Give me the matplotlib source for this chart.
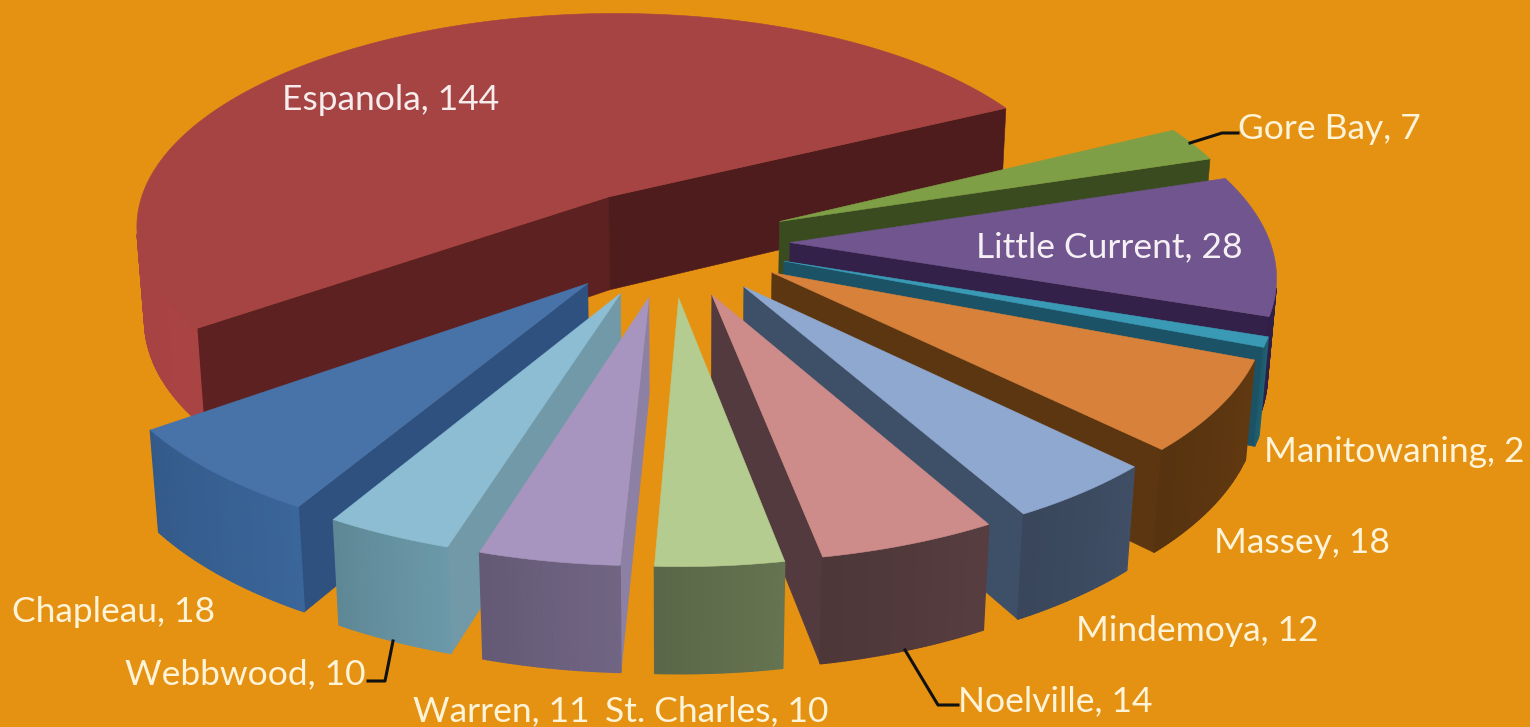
import numpy as np
from matplotlib import pyplot as plt
from matplotlib.colors import to_rgb
from matplotlib.patches import Polygon

towns = ["Gore Bay", "Little Current", "Manitowaning", "Massey", "Mindemoya", "Noelville",
         "St. Charles", "Warren", "Webbwood", "Chapleau", "Espanola"]
values = [7, 28, 2, 18, 12, 14, 10, 11, 10, 18, 144]

top_colors = ["#7f9f46", "#70558f", "#3a9ab5", "#d8813a", "#8fa8d0", "#cd8c8a",
              "#b5cc90", "#a795bf", "#8cbdd3", "#4873a9", "#a64343"]
rim_colors = ["#5f7a34", "#33214a", "#1f5d6e", "#5c3610", "#3c4a60", "#523a3c",
              "#5f6d4c", "#6a5f7c", "#65909f", "#376092", "#a04040"]
face_colors = ["#3a4c1f", "#33214a", "#1b5266", "#5c3610", "#3e5068", "#523a3e",
               "#5f6d4c", "#8c80a5", "#7199a8", "#2f5180", "#551e1e"]

# label position in pixels, left edge and middle of the text
label_x = [1238, 976, 1264, 1214, 1076, 958, 605, 413, 125, 12, 282]
label_y = [129, 247, 452, 543, 631, 701, 711, 711, 674, 612, 100]
label_colors = ["#fff3d8", "#f6f0f4", "#fff3d8", "#fff3d8", "#fff3d8", "#fff3d8",
                "#fff3d8", "#fff3d8", "#fff3d8", "#fff3d8", "#f6ecec"]

# leader lines, pixels
leaders = [([1238, 1222, 1190], [133, 133, 143]),
           ([368, 385, 393], [681, 681, 641]),
           ([958, 938, 905], [705, 705, 650])]

# view of the pie
start_angle = 63.0
explode = 0.25
height = 0.225
elev = np.radians(27.0)
persp = 6.9
focal = 480
center_x = 670
center_y = 242
cam_y = -persp * np.cos(elev)


def project(x, y, z):
    w = 1 + (y * np.cos(elev) - z * np.sin(elev)) / persp
    return center_x + focal * x / w, center_y - focal * (y * np.sin(elev) + z * np.cos(elev)) / w


def shade(color, amount):
    r, g, b = to_rgb(color)
    return (min(r * amount, 1), min(g * amount, 1), min(b * amount, 1))


def fill(ax, xs, ys, color, lw=0.4):
    ax.add_patch(Polygon(np.column_stack([xs, ys]), closed=True, facecolor=color, edgecolor=color, linewidth=lw))


def faces_camera(px, py, angle):
    # angle is the outward normal, clockwise from the back of the pie
    return np.sin(angle) * (0 - px) + np.cos(angle) * (cam_y - py) > 0


def draw_slice(ax, a0, a1, i):
    mid = np.radians((a0 + a1) / 2)
    ox = explode * np.sin(mid)
    oy = explode * np.cos(mid)
    t = np.radians(np.linspace(a0, a1, max(int(a1 - a0) * 2, 4)))
    rx = ox + np.sin(t)
    ry = oy + np.cos(t)
    z_quad = np.array([0, 0, -height, -height])

    # the two flat sides, then the rim, then the top
    for k, normal in [(0, t[0] - np.pi / 2), (-1, t[-1] + np.pi / 2)]:
        if not faces_camera(ox, oy, normal):
            continue
        xs, ys = project(np.array([ox, rx[k], rx[k], ox]), np.array([oy, ry[k], ry[k], oy]), z_quad)
        color = face_colors[i]
        if towns[i] == "Espanola":
            color = shade(color, 1.1 if k == 0 else 0.92)
        fill(ax, xs, ys, color)
    for j in range(len(t) - 1):
        if not faces_camera(rx[j], ry[j], t[j]):
            continue
        xs, ys = project(np.array([rx[j], rx[j + 1], rx[j + 1], rx[j]]),
                         np.array([ry[j], ry[j + 1], ry[j + 1], ry[j]]), z_quad)
        fill(ax, xs, ys, shade(rim_colors[i], 1.06 - 0.12 * j / (len(t) - 1)), lw=1.0)
    xs, ys = project(np.append(ox, rx), np.append(oy, ry), np.zeros(len(t) + 1))
    fill(ax, xs, ys, top_colors[i])


fig = plt.figure(figsize=(15.3, 7.27), dpi=100, facecolor="#e59213")
ax = fig.add_axes([0, 0, 1, 1])
ax.set_xlim(0, 1530)
ax.set_ylim(727, 0)
ax.axis("off")

sweep = np.array(values) / sum(values) * 360
ends = start_angle + np.cumsum(sweep)
starts = ends - sweep
mids = np.radians((starts + ends) / 2)

# back slices first
for i in np.argsort(-np.cos(mids)):
    draw_slice(ax, starts[i], ends[i], i)

for xs, ys in leaders:
    ax.plot(xs, ys, color="#111111", linewidth=2.2, solid_joinstyle="round")

for i in range(len(towns)):
    ax.text(label_x[i], label_y[i], f"{towns[i]}, {values[i]}", color=label_colors[i],
            fontsize=25.5, family="Lato", ha="left", va="center")

fig.savefig("out.png", dpi=100, facecolor=fig.get_facecolor())
